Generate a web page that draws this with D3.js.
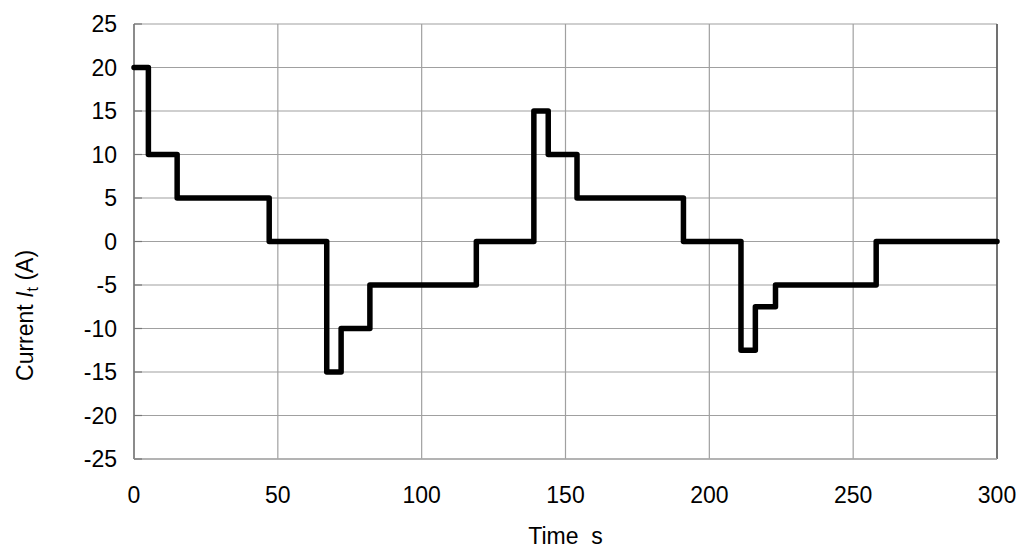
<!DOCTYPE html>
<html>
<head>
<meta charset="utf-8">
<script src="https://cdn.jsdelivr.net/npm/d3@7"></script>
<style>
  body { margin: 0; background: #fff; }
  text { font-family: "Liberation Sans", Arial, sans-serif; fill: #000; }
</style>
</head>
<body>
<svg id="chart" width="1024" height="553"></svg>
<script>
// step changes: time where the level starts, and the level (A)
const stepTimes = [0, 5, 15, 47, 67, 72, 82, 119, 139, 144, 154, 191, 211, 216, 223, 258, 300];
const stepLevels = [20, 10, 5, 0, -15, -10, -5, 0, 15, 10, 5, 0, -12.5, -7.5, -5, 0, 0];
const xTicks = [0, 50, 100, 150, 200, 250, 300];
const yTicks = [-25, -20, -15, -10, -5, 0, 5, 10, 15, 20, 25];

const margin = { top: 24, right: 27, bottom: 94, left: 134 },
      width = 1024 - margin.left - margin.right,
      height = 553 - margin.top - margin.bottom;

const svg = d3.select("#chart");
const g = svg.append("g").attr("transform", `translate(${margin.left},${margin.top})`);

const x = d3.scaleLinear().domain([0, 300]).range([0, width]);
const y = d3.scaleLinear().domain([-25, 25]).range([height, 0]);

// grid
g.selectAll(".hgrid").data(yTicks).join("line")
  .attr("x1", 0).attr("x2", width)
  .attr("y1", d => y(d)).attr("y2", d => y(d))
  .attr("stroke", "#a0a0a0").attr("stroke-width", 1.2);
g.selectAll(".vgrid").data(xTicks).join("line")
  .attr("y1", 0).attr("y2", height)
  .attr("x1", d => x(d)).attr("x2", d => x(d))
  .attr("stroke", "#a0a0a0").attr("stroke-width", 1.2);

// frame: darker left and right sides
g.append("line").attr("x1", 0).attr("x2", 0).attr("y1", 0).attr("y2", height)
  .attr("stroke", "#777").attr("stroke-width", 1.5);
g.append("line").attr("x1", width).attr("x2", width).attr("y1", 0).attr("y2", height)
  .attr("stroke", "#555").attr("stroke-width", 1.5);
g.append("line").attr("x1", 0).attr("x2", width).attr("y1", height).attr("y2", height)
  .attr("stroke", "#aaa").attr("stroke-width", 1.5);
// small ticks on the left axis
g.selectAll(".ytick").data(yTicks).join("line")
  .attr("x1", 0).attr("x2", 8)
  .attr("y1", d => y(d)).attr("y2", d => y(d))
  .attr("stroke", "#777").attr("stroke-width", 1.2);

// tick labels
g.selectAll(".ylab").data(yTicks).join("text")
  .attr("x", -17).attr("y", d => y(d)).attr("dy", "0.36em")
  .attr("text-anchor", "end").attr("font-size", "23px")
  .text(d => d);
g.selectAll(".xlab").data(xTicks).join("text")
  .attr("x", d => x(d)).attr("y", height + 36).attr("dy", "0.36em")
  .attr("text-anchor", "middle").attr("font-size", "23px")
  .text(d => d);

// axis titles
g.append("text")
  .attr("x", x(150)).attr("y", height + 77).attr("dy", "0.36em")
  .attr("text-anchor", "middle").attr("font-size", "23px")
  .attr("xml:space", "preserve")
  .text("Time  s");

const yl = svg.append("text")
  .attr("transform", `translate(33,${margin.top + y(-8.5)}) rotate(-90)`)
  .attr("text-anchor", "middle").attr("font-size", "23px");
yl.append("tspan").text("Current ");
yl.append("tspan").attr("font-style", "italic").text("I");
yl.append("tspan").attr("font-size", "16px").attr("dy", "5").text("t");
yl.append("tspan").attr("dy", "-5").text(" (A)");

// step line
const pts = stepTimes.map((t, i) => [t, stepLevels[i]]);
const line = d3.line().x(d => x(d[0])).y(d => y(d[1])).curve(d3.curveStepAfter);
g.append("path").datum(pts)
  .attr("d", line)
  .attr("fill", "none")
  .attr("stroke", "#000")
  .attr("stroke-width", 5.5)
  .attr("stroke-linejoin", "round")
  .attr("stroke-linecap", "round");
</script>
</body>
</html>
